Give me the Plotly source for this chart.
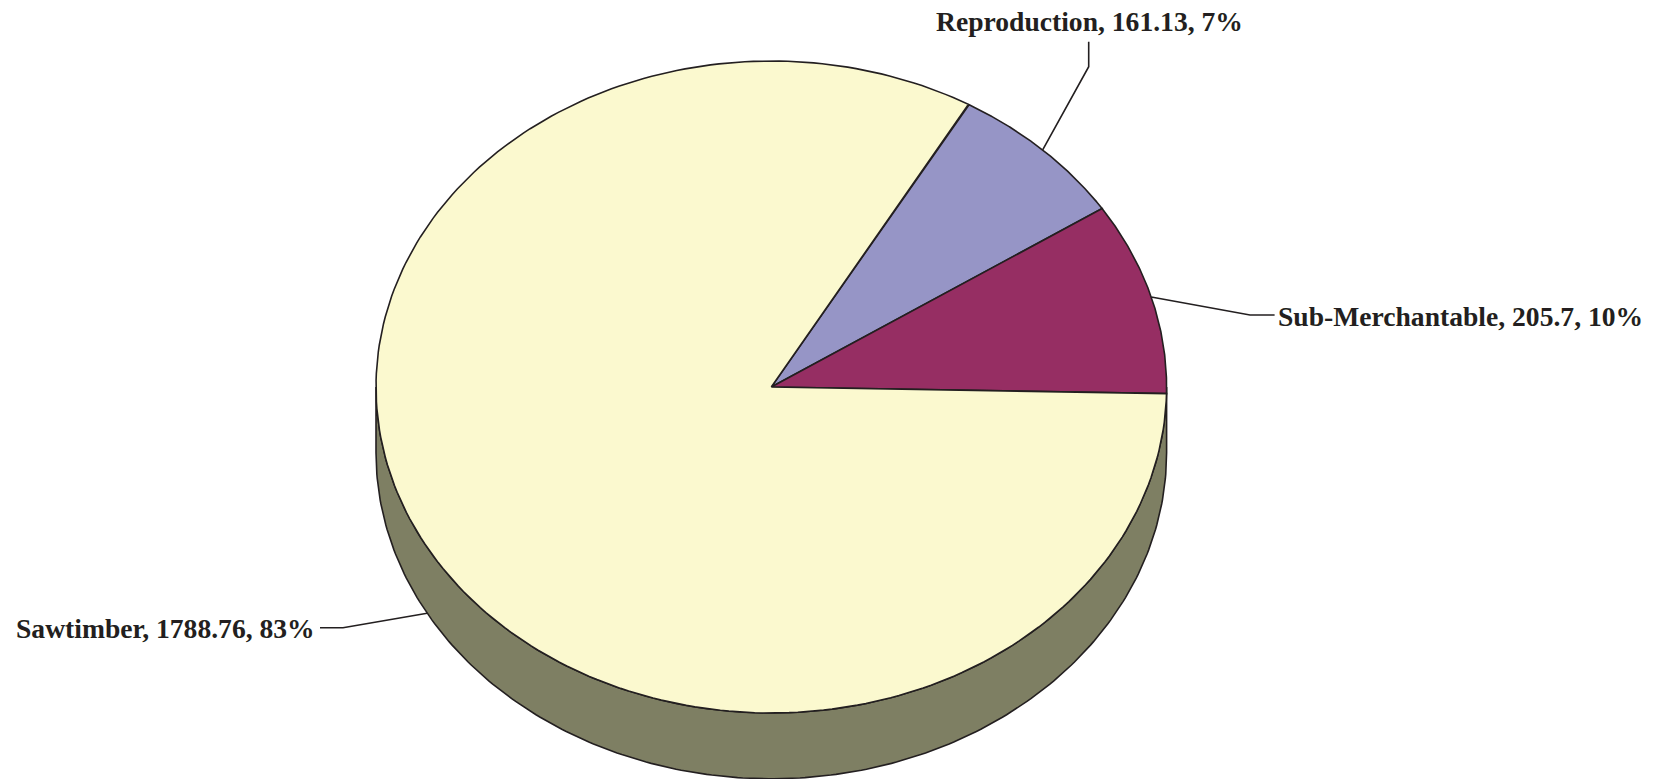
import numpy as np
import plotly.graph_objects as go

# Data
categories = ["Reproduction", "Sub-Merchantable", "Sawtimber"]
values = [161.13, 205.7, 1788.76]
value_labels = ["161.13", "205.7", "1788.76"]
slice_colors = ["#9695C6", "#962E63", "#FBF9CF"]
side_color = "#7E7F63"
line_color = "#231F20"

W, H = 1662, 779
CX, CY, RX, RY = 771.3, 387.0, 395.3, 326.0   # pie placement in the page
DEPTH = 65.8 / RY                              # height of the pie side, unit-circle terms
ROTATION = 29.9                                # first slice angle, clockwise from top
LINE_W = 1.6


def data_x(px):
    return (px - CX) / RX


def data_y(py):
    return (CY - py) / RY


def arc(a0, a1, n=240):
    t = np.radians(np.linspace(a0, a1, n))
    return np.sin(t), np.cos(t)


fig = go.Figure()

# Pie side (visible lower half, pushed down by the depth)
sx, sy = arc(90, 270)
fig.add_trace(go.Scatter(
    x=np.r_[sx, sx[::-1], sx[0]],
    y=np.r_[sy, sy[::-1] - DEPTH, sy[0]],
    mode="lines", fill="toself", fillcolor=side_color,
    line=dict(color=line_color, width=LINE_W), hoverinfo="skip", showlegend=False,
))

# Slices, with angles taken from the values
total = sum(values)
start = ROTATION
mids = []
for name, val, col in zip(categories, values, slice_colors):
    sweep = val / total * 360.0
    ax, ay = arc(start, start + sweep)
    fig.add_trace(go.Scatter(
        x=np.r_[0, ax, 0], y=np.r_[0, ay, 0],
        mode="lines", fill="toself", fillcolor=col,
        line=dict(color=line_color, width=LINE_W), name=name,
        hoverinfo="name", showlegend=False,
    ))
    mids.append(start + sweep / 2.0)
    start += sweep


def rim(angle, drop=0.0):
    t = np.radians(angle)
    return float(np.sin(t)), float(np.cos(t)) - drop


# Leader lines: rim anchor -> elbow -> label end
anchors = [rim(mids[0]), rim(mids[1]), rim(mids[2], DEPTH)]
elbows = [(1088.7, 66.7), (1250.0, 315.0), (343.0, 627.7)]
ends = [(1088.7, 41.7), (1274.6, 315.0), (320.0, 627.7)]
for a, e, f in zip(anchors, elbows, ends):
    fig.add_trace(go.Scatter(
        x=[a[0], data_x(e[0]), data_x(f[0])],
        y=[a[1], data_y(e[1]), data_y(f[1])],
        mode="lines", line=dict(color=line_color, width=LINE_W),
        hoverinfo="skip", showlegend=False,
    ))

# Labels
label_pos = [(1089.0, 21.0, "center"), (1276.0, 316.0, "left"), (14.0, 628.5, "left")]
for name, vlab, val, (px, py, anchor) in zip(categories, value_labels, values, label_pos):
    fig.add_annotation(
        x=data_x(px), y=data_y(py), xref="x", yref="y",
        text=f"<b>{name}, {vlab}, {round(val / total * 100)}%</b>",
        showarrow=False, xanchor=anchor, yanchor="middle",
        font=dict(family="Liberation Serif", size=27.6, color=line_color),
    )

fig.update_layout(
    width=W, height=H, margin=dict(l=0, r=0, t=0, b=0),
    paper_bgcolor="white", plot_bgcolor="white", showlegend=False,
    xaxis=dict(range=[data_x(0), data_x(W)], visible=False, fixedrange=True),
    yaxis=dict(range=[data_y(H), data_y(0)], visible=False, fixedrange=True),
)

fig.write_html(
    "out.html",
    config={"displayModeBar": False},
    post_script="document.body.style.margin='0';document.body.style.overflow='hidden';",
)
